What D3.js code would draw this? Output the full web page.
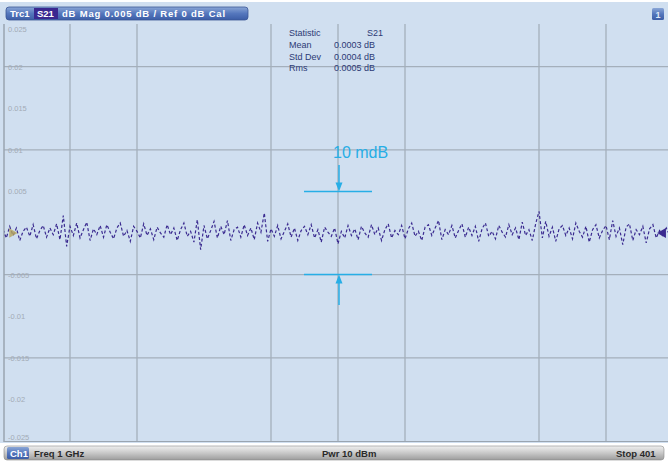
<!DOCTYPE html>
<html>
<head>
<meta charset="utf-8">
<script src="https://cdn.jsdelivr.net/npm/d3@7"></script>
<style>
  body { margin: 0; background: #fff; }
  svg { display: block; font-family: "Liberation Sans", Arial, sans-serif; }
</style>
</head>
<body>
<div id="chart"></div>
<script>
// y axis tick labels (dB)
var yTicks = [0.025, 0.02, 0.015, 0.01, 0.005, -0.005, -0.01, -0.015, -0.02, -0.025];
// grid lines that are visible in the picture
var yGrid = [0.02, 0.01, -0.005, -0.015];
var xGridDiv = [1, 2, 4, 5, 6, 8, 9];
// trace values in mdB, every second of the 401 sweep points
var traceMdb = [
  0.4, -0.6, 0.8, -0.3, 0.6, -0.9, 0.2, 0.7, -0.4, 1.0,
  -0.7, 0.3, 0.9, -0.5, 0.6, -0.2, 1.1, -0.8, 2.1, -1.6,
  0.8, -0.3, 1.2, -0.6, 0.4, 1.3, -0.9, 0.5, -0.2, 0.9,
  -0.5, 1.0, 0.1, -0.7, 0.6, 1.2, -0.4, 0.3, -1.0, 0.8,
  0.2, -0.6, 1.1, -0.3, 0.5, -0.8, 0.7, 0.0, -0.5, 1.0,
  -0.2, 0.6, -0.9, 0.4, 1.2, -0.4, 0.2, -1.1, 1.6, -2.0,
  0.9, -0.7, 0.3, 1.4, -0.6, 0.8, -0.2, 1.5, -0.9, 0.4,
  0.7, -0.5, 1.0, -0.3, 0.6, -0.8, 1.2, 0.1, 2.4, -1.0,
  0.5, -0.4, 0.9, -0.7, 0.2, 1.1, -0.5, 0.6, -0.9, 0.3,
  0.8, -0.2, 1.0, -0.6, 0.4, -1.1, 0.7, 0.1, -0.4, 0.6,
  -1.3, 0.2, -0.6, 0.9, -0.3, 0.5, -0.8, 0.8, 0.0, -0.5,
  1.0, -0.2, 0.6, -0.9, 0.4, 1.1, -0.6, 0.3, -0.2, 0.9,
  -0.7, 0.5, 1.2, -0.4, 0.2, -0.9, 0.7, 1.0, -0.3, 0.6,
  1.5, -0.8, 0.4, -0.2, 0.9, -0.6, 0.3, 1.1, -0.5, 0.7,
  -0.3, 0.8, -1.0, 0.5, 1.2, -0.4, 0.2, -0.7, 0.9, 0.1,
  -0.5, 1.0, -0.2, 0.6, -0.8, 1.3, -0.3, 0.4, -0.9, 1.1,
  2.6, -0.6, 1.4, -0.4, 0.7, -1.0, 0.5, 0.9, -0.3, 0.6,
  -0.7, 1.2, 0.2, -0.5, 0.8, -1.1, 0.4, 1.0, -0.6, 0.3,
  0.9, -0.8, 1.5, -0.4, 0.6, -1.4, 0.7, 1.1, -0.9, 0.4,
  -0.2, 0.8, -1.2, 0.5, 1.0, -0.6, 0.3, -0.4, 0.6, -0.3,
  0.2
];
var statLabels = ["Mean", "Std Dev", "Rms"];
var statValues = ["0.0003 dB", "0.0004 dB", "0.0005 dB"];
var markerMdb = 10; // the "10 mdB" span, +-5 mdB

var W = 668, H = 462;
var svg = d3.select("#chart").append("svg").attr("width", W).attr("height", H);

var y = d3.scaleLinear().domain([-0.025, 0.025]).range([441, 25]);
var xDiv = d3.scaleLinear().domain([0, 10]).range([3, 673]);
var xPt = d3.scaleLinear().domain([0, 400]).range([3, 673]);

// background
svg.append("rect").attr("x", 0).attr("y", 2).attr("width", W).attr("height", 441).attr("fill", "#d0dff0");

svg.append("clipPath").attr("id", "plotClip")
  .append("rect").attr("x", 4).attr("y", 24).attr("width", 664).attr("height", 418);

// grid
var grid = svg.append("g").attr("stroke", "#a4afbb").attr("stroke-width", 1.3);
grid.selectAll(".gy").data(yGrid).enter().append("line")
  .attr("x1", 4).attr("x2", W).attr("y1", d => y(d)).attr("y2", d => y(d));
grid.selectAll(".gx").data(xGridDiv).enter().append("line")
  .attr("x1", d => xDiv(d)).attr("x2", d => xDiv(d)).attr("y1", 24).attr("y2", 441);

// left & bottom frame
svg.append("line").attr("x1", 4).attr("x2", 4).attr("y1", 24).attr("y2", 442).attr("stroke", "#9aa5b1").attr("stroke-width", 1.5);
svg.append("line").attr("x1", 4).attr("x2", W).attr("y1", 441.5).attr("y2", 441.5).attr("stroke", "#9aa5b1").attr("stroke-width", 1);

// y labels (the outermost ones sit inside the grid)
svg.append("g").selectAll("text").data(yTicks).enter().append("text")
  .attr("x", 8)
  .attr("y", d => y(d) + (d === 0.025 ? 7 : d === -0.025 ? -1 : 3))
  .attr("font-size", 7.5).attr("fill", "#a3abb6")
  .text(d => String(d));

// trace
var line = d3.line().x((d, i) => xPt(i * 2)).y(d => y(d / 1000));
svg.append("path").datum(traceMdb)
  .attr("clip-path", "url(#plotClip)")
  .attr("d", line).attr("fill", "none")
  .attr("stroke", "#3b2b90").attr("stroke-width", 1.2)
  .attr("stroke-dasharray", "3 2.2");

// reference marker at left, end marker at right
svg.append("path").attr("d", d3.symbol(d3.symbolTriangle, 40)())
  .attr("transform", "translate(12," + y(0) + ") rotate(90)")
  .attr("fill", "#b5a45a").attr("opacity", 0.8);
svg.append("path").attr("d", d3.symbol(d3.symbolTriangle, 45)())
  .attr("transform", "translate(663," + y(0) + ") rotate(-90)")
  .attr("fill", "#3b2b90");

// 10 mdB annotation
var cyan = "#27aee6";
var ann = svg.append("g");
[markerMdb / 2, -markerMdb / 2].forEach(function (v) {
  ann.append("line").attr("x1", 304).attr("x2", 372)
    .attr("y1", y(v / 1000)).attr("y2", y(v / 1000))
    .attr("stroke", cyan).attr("stroke-width", 1.5);
});
var ax = 339;
ann.append("line").attr("x1", ax).attr("x2", ax).attr("y1", 165).attr("y2", y(0.005) - 6)
  .attr("stroke", cyan).attr("stroke-width", 1.5);
ann.append("path").attr("fill", cyan)
  .attr("d", d3.line()([[ax - 3.5, y(0.005) - 9], [ax + 3.5, y(0.005) - 9], [ax, y(0.005)]]));
ann.append("line").attr("x1", ax).attr("x2", ax).attr("y1", 305).attr("y2", y(-0.005) + 6)
  .attr("stroke", cyan).attr("stroke-width", 1.5);
ann.append("path").attr("fill", cyan)
  .attr("d", d3.line()([[ax - 3.5, y(-0.005) + 9], [ax + 3.5, y(-0.005) + 9], [ax, y(-0.005)]]));
ann.append("text").attr("x", 333).attr("y", 158)
  .attr("font-size", 16).attr("fill", cyan)
  .attr("font-family", "'Liberation Sans Narrow', 'Liberation Sans', sans-serif")
  .text(markerMdb + " mdB");

// statistics box
var st = svg.append("g").attr("font-size", 9).attr("fill", "#2c3a75");
st.append("text").attr("x", 289).attr("y", 36).text("Statistic");
st.append("text").attr("x", 367).attr("y", 36).text("S21");
st.selectAll(".sl").data(statLabels).enter().append("text")
  .attr("x", 289).attr("y", (d, i) => 48 + i * 11.5).text(d => d);
st.selectAll(".sv").data(statValues).enter().append("text")
  .attr("x", 334).attr("y", (d, i) => 48 + i * 11.5).text(d => d);

// top header bar
var defs = svg.append("defs");
var gb = defs.append("linearGradient").attr("id", "blueGrad").attr("x1", 0).attr("x2", 0).attr("y1", 0).attr("y2", 1);
gb.append("stop").attr("offset", 0).attr("stop-color", "#8aa6d6");
gb.append("stop").attr("offset", 0.5).attr("stop-color", "#5577bd");
gb.append("stop").attr("offset", 1).attr("stop-color", "#3c5da6");
var gg = defs.append("linearGradient").attr("id", "grayGrad").attr("x1", 0).attr("x2", 0).attr("y1", 0).attr("y2", 1);
gg.append("stop").attr("offset", 0).attr("stop-color", "#f0f0f0");
gg.append("stop").attr("offset", 0.5).attr("stop-color", "#c8c8c8");
gg.append("stop").attr("offset", 1).attr("stop-color", "#9c9c9c");

svg.append("rect").attr("x", 6).attr("y", 7).attr("width", 242).attr("height", 13).attr("rx", 3)
  .attr("fill", "url(#blueGrad)").attr("stroke", "#3a5596").attr("stroke-width", 0.8);
svg.append("rect").attr("x", 34).attr("y", 8).attr("width", 24).attr("height", 11).attr("fill", "#3a2890");
var hdr = svg.append("g").attr("font-size", 9.5).attr("font-weight", "bold").attr("fill", "#fff");
hdr.append("text").attr("x", 10).attr("y", 17).text("Trc1");
hdr.append("text").attr("x", 37).attr("y", 17).text("S21");
hdr.append("text").attr("x", 62).attr("y", 17).attr("letter-spacing", 0.8)
  .text("dB Mag  0.005 dB / Ref 0 dB  Cal");

svg.append("rect").attr("x", 652).attr("y", 8).attr("width", 12).attr("height", 12).attr("rx", 1.5)
  .attr("fill", "url(#blueGrad)");
svg.append("text").attr("x", 658).attr("y", 17.5).attr("text-anchor", "middle")
  .attr("font-size", 9).attr("font-weight", "bold").attr("fill", "#dfe8f6").text("1");

// bottom channel bar
svg.append("rect").attr("x", 4).attr("y", 446).attr("width", 660).attr("height", 14).attr("rx", 3)
  .attr("fill", "url(#grayGrad)").attr("stroke", "#8c8c8c").attr("stroke-width", 0.6);
svg.append("rect").attr("x", 7).attr("y", 447).attr("width", 22).attr("height", 12).attr("rx", 1.5)
  .attr("fill", "url(#blueGrad)");
var ft = svg.append("g").attr("font-size", 9.5).attr("font-weight", "bold").attr("fill", "#2a2a2a");
ft.append("text").attr("x", 10).attr("y", 457).attr("fill", "#fff").text("Ch1");
ft.append("text").attr("x", 34).attr("y", 457).text("Freq  1 GHz");
ft.append("text").attr("x", 322).attr("y", 457).text("Pwr  10 dBm");
ft.append("text").attr("x", 616).attr("y", 457).text("Stop  401");
</script>
</body>
</html>
